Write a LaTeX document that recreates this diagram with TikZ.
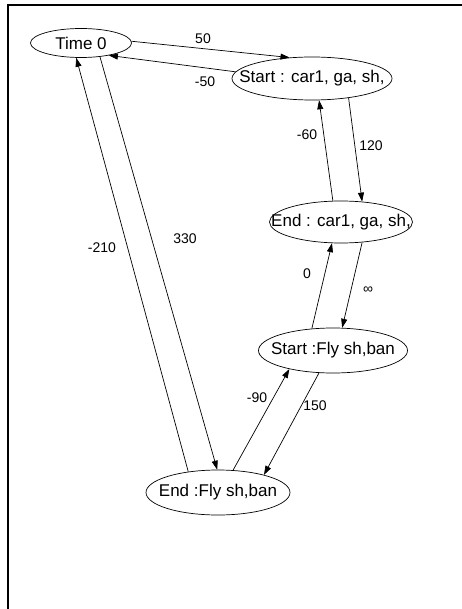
\documentclass[tikz,border=0pt]{standalone}
\usepackage{fontspec}
\setmainfont{Liberation Sans}
\usetikzlibrary{shapes.geometric,arrows.meta}

% keep the label from widening its ellipse
\newcommand{\nolen}[1]{\makebox[0pt]{#1}}

\begin{document}
\begin{tikzpicture}[x=1pt, y=-1pt, line width=0.7pt,
		event/.style={ellipse, draw, inner sep=0pt, font=\fontsize{17}{19}\selectfont},
		weight/.style={inner sep=0pt, font=\fontsize{14}{16}\selectfont},
		arr/.style={-{Triangle[length=9pt, width=6pt]}}]
	\useasboundingbox (0,0) rectangle (462,609);
	% frame
	\draw[line width=2pt] (8,609) -- (8,5) -- (462,5);
	
	% events
	\node[event, minimum width=101pt, minimum height=29pt] (t0) at (81,43) {\nolen{Time 0}};
	\node[event, minimum width=160pt, minimum height=43pt] (s1) at (312,78.5) {\nolen{Start : car1, ga, sh,}};
	\node[event, minimum width=143pt, minimum height=42pt] (e1) at (341,222) {\nolen{End : car1, ga, sh,}};
	\node[event, minimum width=149pt, minimum height=45pt] (s2) at (333,350.5) {\nolen{Start :Fly sh,ban}};
	\node[event, minimum width=144pt, minimum height=45pt] (e2) at (218,492.5) {\nolen{End :Fly sh,ban}};
	
	% constraints
	\draw[arr] (t0.2) -- (s1.137);
	\draw[arr] (s1.175) -- (t0.-24);
	\draw[arr] (s1.-28) -- (e1.44);
	\draw[arr] (e1.111) -- (s1.-72);
	\draw[arr] (e1.-44) -- (s2.68);
	\draw[arr] (s2.134) -- (e1.-113);
	\draw[arr] (s2.-122) -- (e2.21);
	\draw[arr] (e2.56) -- (s2.-157);
	\draw[arr] (t0.-36) -- (e2.92);
	\draw[arr] (e2.145) -- (t0.-108);
	
	% weights
	\node[weight] (w50) at (203,39) {50};
	\node[weight] (wm50) at (205,82) {-50};
	\node[weight] (w120) at (371,146) {120};
	\node[weight] (wm60) at (307,135) {-60};
	\node[weight] (w0) at (307,274) {0};
	\node[weight] (winf) at (368,290) {∞};
	\node[weight] (wm90) at (257,398) {-90};
	\node[weight] (w150) at (315,406) {150};
	\node[weight] (w330) at (185,239) {330};
	\node[weight] (wm210) at (102,248) {-210};
\end{tikzpicture}
\end{document}
